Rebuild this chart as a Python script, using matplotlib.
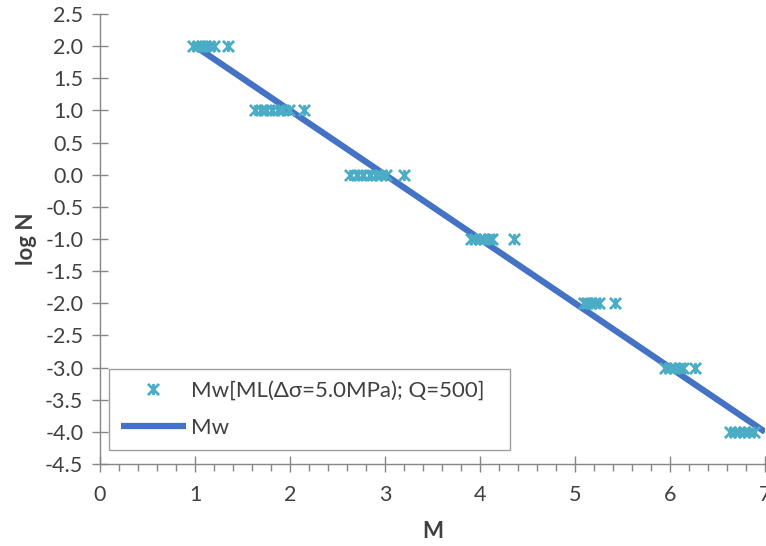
import matplotlib
matplotlib.use("Agg")
import matplotlib.pyplot as plt
from matplotlib.path import Path
from matplotlib.ticker import MultipleLocator

# =============================
# DATA
# =============================
logn_levels = [2, 1, 0, -1, -2, -3, -4]

m_level_2 = [0.98, 1.03, 1.07, 1.11, 1.15, 1.20, 1.35]
m_level_1 = [1.63, 1.69, 1.75, 1.81, 1.87, 1.93, 1.99, 2.15]
m_level_0 = [2.63, 2.70, 2.77, 2.84, 2.90, 2.96, 3.01, 3.20]
m_level_m1 = [3.90, 3.95, 4.00, 4.04, 4.09, 4.13, 4.36]
m_level_m2 = [5.09, 5.13, 5.17, 5.21, 5.25, 5.42]
m_level_m3 = [5.95, 6.00, 6.05, 6.10, 6.14, 6.26]
m_level_m4 = [6.63, 6.68, 6.73, 6.78, 6.83, 6.88]

mw_m = [1, 7]
mw_logn = [2, -4]

scatter_label = "Mw[ML(\u0394\u03c3=5.0MPa); Q=500]"
line_label = "Mw"

# =============================
# STYLE
# =============================
plt.rcParams["font.family"] = ["Lato", "DejaVu Sans"]
axis_gray = "#868686"
text_color = "#404040"
marker_color = "#4BACC6"
line_color = "#4472C4"

# excel-like star marker: an x plus a vertical bar
star = Path([(-1, -1), (1, 1), (-1, 1), (1, -1), (0, -1), (0, 1)],
            [Path.MOVETO, Path.LINETO, Path.MOVETO, Path.LINETO,
             Path.MOVETO, Path.LINETO])

# =============================
# FIGURE
# =============================
fig = plt.figure(figsize=(7.66, 5.46), dpi=100)
ax = fig.add_axes([100 / 766, 82 / 546, 665 / 766, 450 / 546])

all_m = []
all_logn = []
for level, ms in zip(logn_levels, [m_level_2, m_level_1, m_level_0, m_level_m1,
                                   m_level_m2, m_level_m3, m_level_m4]):
    all_m += ms
    all_logn += [level] * len(ms)

ax.plot(all_m, all_logn, linestyle="none", marker=star, markersize=8,
        markeredgewidth=2.0, color=marker_color, label=scatter_label, zorder=3,
        clip_on=False)
ax.plot(mw_m, mw_logn, color=line_color, linewidth=4.5, label=line_label,
        zorder=2, solid_capstyle="butt")

# =============================
# AXES
# =============================
ax.set_xlim(0, 7)
ax.set_ylim(-4.5, 2.5)
ax.xaxis.set_major_locator(MultipleLocator(1))
ax.xaxis.set_minor_locator(MultipleLocator(0.2))
ax.yaxis.set_major_locator(MultipleLocator(0.5))
ax.yaxis.set_major_formatter(plt.FuncFormatter(lambda v, p: f"{v:.1f}"))

for side in ["top", "right"]:
    ax.spines[side].set_visible(False)
for side in ["left", "bottom"]:
    ax.spines[side].set_color(axis_gray)
    ax.spines[side].set_linewidth(1.0)

ax.tick_params(axis="both", which="major", direction="inout", length=12,
               width=1.0, color=axis_gray, labelsize=15.5, labelcolor=text_color)
ax.tick_params(axis="x", which="minor", direction="out", length=5,
               width=1.0, color=axis_gray)
ax.tick_params(axis="x", which="major", pad=9)
ax.tick_params(axis="y", which="major", pad=6)

ax.set_xlabel("M", fontsize=16, fontweight="bold", color=text_color, labelpad=12)
ax.set_ylabel("log N", fontsize=16, fontweight="bold", color=text_color, labelpad=6)

# =============================
# LEGEND
# =============================
leg = ax.legend(loc="lower left", bbox_to_anchor=(0.0135, 0.031, 0.603, 0.182),
                mode="expand", fontsize=16, frameon=True, fancybox=False,
                handlelength=2.9, handletextpad=0.25, borderpad=0.55,
                labelspacing=0.75, borderaxespad=0)
leg.get_frame().set_edgecolor(axis_gray)
leg.get_frame().set_linewidth(1.0)
for t in leg.get_texts():
    t.set_color(text_color)

fig.savefig("out.png", dpi=100)
